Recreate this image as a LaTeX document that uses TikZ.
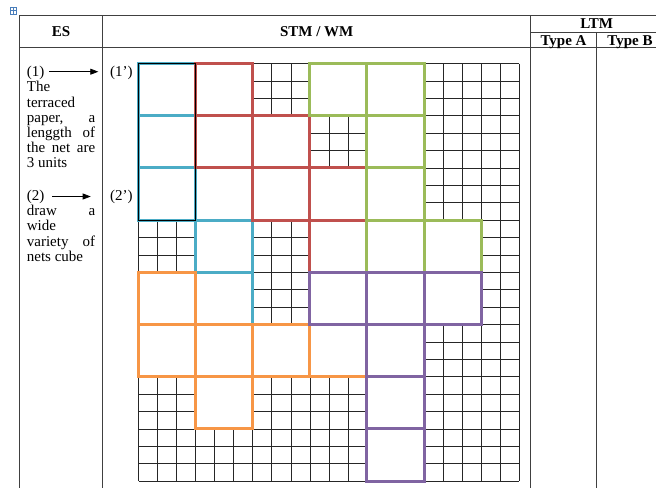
\documentclass[tikz,border=0pt]{standalone}
\usepackage{fontspec}
\setmainfont{Liberation Serif}
\usetikzlibrary{arrows.meta}
\definecolor{netcyan}{HTML}{4BACC6}
\definecolor{netred}{HTML}{C0504D}
\definecolor{netgreen}{HTML}{9BBB59}
\definecolor{netorange}{HTML}{F79646}
\definecolor{netpurple}{HTML}{8064A2}
\definecolor{handleblue}{HTML}{4A7EBB}
\newcommand{\netsq}[2]{(#1,#2) rectangle ++(1,1)}
\begin{document}
\begin{tikzpicture}[x=1pt,y=-1pt,
  tabline/.style={draw=black!75,line width=0.9pt},
  gridline/.style={draw=black!85,line width=0.6pt},
  netedge/.style={line width=3pt,line join=miter},
  txt/.style={font=\fontsize{15}{15.5}\selectfont,inner sep=0pt,anchor=base west},
  head/.style={font=\fontsize{15}{15.5}\selectfont\bfseries,inner sep=0pt,anchor=base},
  arr/.style={-{Triangle[length=8pt,width=6pt]},line width=0.8pt}]
\useasboundingbox (0,0) rectangle (656,488);
\fill[white] (0,0) rectangle (656,488);

% table handle icon
\draw[handleblue,line width=0.8pt] (10,10.5) -- (16.5,10.5) (13.3,7) -- (13.3,14);
\draw[handleblue,line width=0.6pt] (10,7) rectangle (16.5,14);

% table lines
\draw[tabline] (19.3,15) -- (660,15);
\draw[tabline] (19.3,47.3) -- (660,47.3);
\draw[tabline] (530,32.3) -- (660,32.3);
\draw[tabline] (19.3,15) -- (19.3,488);
\draw[tabline] (102.7,15) -- (102.7,488);
\draw[tabline] (530,15) -- (530,488);
\draw[tabline] (596.7,32.3) -- (596.7,488);

% headers
\node[head] (hes) at (61,36.7) {ES};
\node[head] (hstm) at (316.7,36.7) {STM / WM};
\node[head] (hltm) at (596.7,28.3) {LTM};
\node[head] (hta) at (563.5,45) {Type A};
\node[head] (htb) at (630,45) {Type B};

% ES column text
\node[txt] (e1) at (26.7,76.5) {(1)};
\coordinate (e1end) at (98.3,71.7);
\draw[arr] (49,71.7) -- (e1end);
\node[txt] (e2) at (26.7,91.7) {The};
\node[txt] (e3) at (26.7,107) {terraced};
\node[txt] (e4) at (26.7,122.2) {\hbox to 68.3pt{paper,\hfill a}};
\node[txt] (e5) at (26.7,137.4) {\hbox to 68.3pt{lenggth\hfill of}};
\node[txt] (e6) at (26.7,152.6) {\hbox to 68.3pt{the net are}};
\node[txt] (e7) at (26.7,167.2) {3 units};
\node[txt] (f1) at (26.7,200.5) {(2)};
\coordinate (f1end) at (90.7,196.5);
\draw[arr] (52.3,196.5) -- (f1end);
\node[txt] (f2) at (26.7,215.6) {\hbox to 68.3pt{draw\hfill a}};
\node[txt] (f3) at (26.7,230.8) {wide};
\node[txt] (f4) at (26.7,246) {\hbox to 68.3pt{variety\hfill of}};
\node[txt] (f5) at (26.7,261.5) {nets cube};

% STM labels
\node[txt] (s1) at (110,76.5) {(1’)};
\node[txt] (s2) at (110,200.5) {(2’)};

% grid and nets
\begin{scope}[shift={(138.5,63.5)},x=57.12pt,y=-52.2pt]
  \foreach \i in {0,...,20} \draw[gridline] (\i/3,0) -- (\i/3,8);
  \foreach \j in {0,...,24} \draw[gridline] (0,\j/3) -- (20/3,\j/3);
  % white faces of the nets
  \fill[white] \netsq{0}{0} \netsq{0}{1} \netsq{0}{2} \netsq{1}{2} \netsq{1}{3} \netsq{1}{4};
  \fill[white] \netsq{1}{0} \netsq{1}{1} \netsq{2}{1} \netsq{2}{2} \netsq{3}{2} \netsq{3}{3};
  \fill[white] \netsq{3}{0} \netsq{4}{0} \netsq{4}{1} \netsq{4}{2} \netsq{4}{3} \netsq{5}{3};
  \fill[white] \netsq{0}{4} \netsq{0}{5} \netsq{1}{5} \netsq{2}{5} \netsq{3}{5} \netsq{1}{6};
  \fill[white] \netsq{3}{4} \netsq{4}{4} \netsq{5}{4} \netsq{4}{5} \netsq{4}{6} \netsq{4}{7};
  % outlines
  \draw[netedge,netcyan] \netsq{0}{0} \netsq{0}{1} \netsq{0}{2} \netsq{1}{2} \netsq{1}{3} \netsq{1}{4};
  \draw[netedge,netred] \netsq{1}{0} \netsq{1}{1} \netsq{2}{1} \netsq{2}{2} \netsq{3}{2} \netsq{3}{3};
  \draw[netedge,netgreen] \netsq{3}{0} \netsq{4}{0} \netsq{4}{1} \netsq{4}{2} \netsq{4}{3} \netsq{5}{3};
  \draw[netedge,netorange] \netsq{0}{4} \netsq{0}{5} \netsq{1}{5} \netsq{2}{5} \netsq{3}{5} \netsq{1}{6};
  \draw[netedge,netpurple] \netsq{3}{4} \netsq{4}{4} \netsq{5}{4} \netsq{4}{5} \netsq{4}{6} \netsq{4}{7};
  \draw[black,line width=0.8pt] (0,0) rectangle (1,3);
\end{scope}
\end{tikzpicture}
\end{document}
